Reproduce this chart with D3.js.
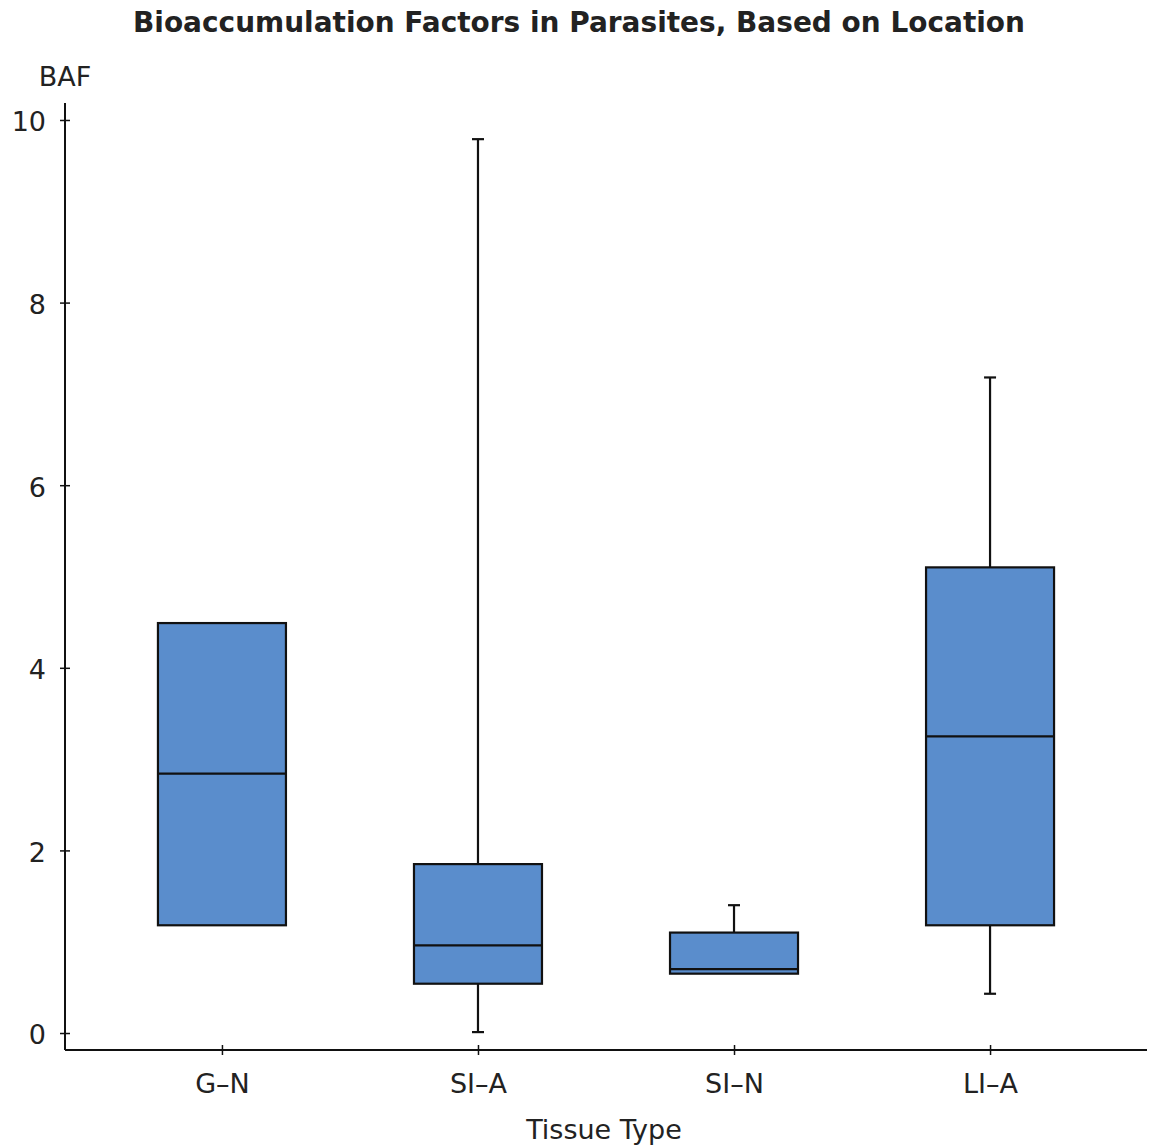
<!DOCTYPE html>
<html>
<head>
<meta charset="utf-8">
<script src="https://cdn.jsdelivr.net/npm/d3@7"></script>
<style>
  body { margin: 0; background: #fff; }
  text { font-family: "DejaVu Sans", sans-serif; fill: #222; }
</style>
</head>
<body>
<svg id="chart" width="1149" height="1148"></svg>
<script>
const categories = ['G–N', 'SI–A', 'SI–N', 'LI–A'];
const mins    = [1.18, 0.01, 0.65, 0.43];
const q1s     = [1.18, 0.54, 0.65, 1.18];
const medians = [2.84, 0.96, 0.70, 3.25];
const q3s     = [4.49, 1.85, 1.10, 5.10];
const maxs    = [4.49, 9.79, 1.40, 7.18];
const yTicks  = [0, 2, 4, 6, 8, 10];

const boxes = categories.map((c, i) => ({
  name: c, min: mins[i], q1: q1s[i], med: medians[i], q3: q3s[i], max: maxs[i]
}));

const svg = d3.select('#chart');
const plotLeft = 65, plotRight = 1147, plotTop = 103, plotBottom = 1050;

const x = d3.scalePoint().domain(categories).range([plotLeft, plotRight]).padding(0.613);
const y = d3.scaleLinear().domain([-0.186, 10.186]).range([plotBottom, plotTop]);
const boxW = 128, capW = 12;

// title
svg.append('text')
  .attr('x', 579).attr('y', 32)
  .attr('text-anchor', 'middle')
  .attr('font-size', 29).attr('font-weight', 'bold')
  .attr('textLength', 892).attr('lengthAdjust', 'spacingAndGlyphs')
  .text('Bioaccumulation Factors in Parasites, Based on Location');

// axes
const yAxis = d3.axisLeft(y).tickValues(yTicks).tickSize(5).tickPadding(14).tickFormat(d3.format('d'));
const gy = svg.append('g').attr('transform', `translate(${plotLeft},0)`).call(yAxis);
gy.select('.domain').attr('d', `M0,${plotTop}V${plotBottom}`).attr('stroke', '#111').attr('stroke-width', 2);
gy.selectAll('.tick line').attr('x1', 5).attr('x2', -5).attr('stroke', '#111').attr('stroke-width', 1.5);
gy.selectAll('.tick text').attr('font-size', 27).attr('font-family', 'DejaVu Sans').attr('fill', '#222').attr('dy', '0.4em');

const xAxis = d3.axisBottom(x).tickSize(5).tickPadding(19);
const gx = svg.append('g').attr('transform', `translate(0,${plotBottom})`).call(xAxis);
gx.select('.domain').attr('d', `M${plotLeft},0H${plotRight}`).attr('stroke', '#111').attr('stroke-width', 2);
gx.selectAll('.tick line').attr('y1', -5).attr('y2', 5).attr('stroke', '#111').attr('stroke-width', 1.5);
gx.selectAll('.tick text').attr('font-size', 27).attr('font-family', 'DejaVu Sans').attr('fill', '#222');

// axis labels
svg.append('text').attr('x', 65).attr('y', 86).attr('text-anchor', 'middle')
  .attr('font-size', 27).text('BAF');
svg.append('text').attr('x', 604).attr('y', 1139).attr('text-anchor', 'middle')
  .attr('font-size', 27).text('Tissue Type');

// boxes
const g = svg.append('g').selectAll('g').data(boxes).join('g');

g.filter(d => d.max > d.q3).append('line')
  .attr('x1', d => x(d.name)).attr('x2', d => x(d.name))
  .attr('y1', d => y(d.q3)).attr('y2', d => y(d.max));
g.filter(d => d.max > d.q3).append('line')
  .attr('x1', d => x(d.name) - capW / 2).attr('x2', d => x(d.name) + capW / 2)
  .attr('y1', d => y(d.max)).attr('y2', d => y(d.max));
g.filter(d => d.min < d.q1).append('line')
  .attr('x1', d => x(d.name)).attr('x2', d => x(d.name))
  .attr('y1', d => y(d.q1)).attr('y2', d => y(d.min));
g.filter(d => d.min < d.q1).append('line')
  .attr('x1', d => x(d.name) - capW / 2).attr('x2', d => x(d.name) + capW / 2)
  .attr('y1', d => y(d.min)).attr('y2', d => y(d.min));

g.append('rect')
  .attr('x', d => x(d.name) - boxW / 2).attr('width', boxW)
  .attr('y', d => y(d.q3)).attr('height', d => y(d.q1) - y(d.q3))
  .attr('fill', '#5a8dcc');

g.append('line')
  .attr('x1', d => x(d.name) - boxW / 2).attr('x2', d => x(d.name) + boxW / 2)
  .attr('y1', d => y(d.med)).attr('y2', d => y(d.med));

g.selectAll('line').attr('stroke', '#111').attr('stroke-width', 2.2);
g.select('rect').attr('stroke', '#111').attr('stroke-width', 2.2);
</script>
</body>
</html>
